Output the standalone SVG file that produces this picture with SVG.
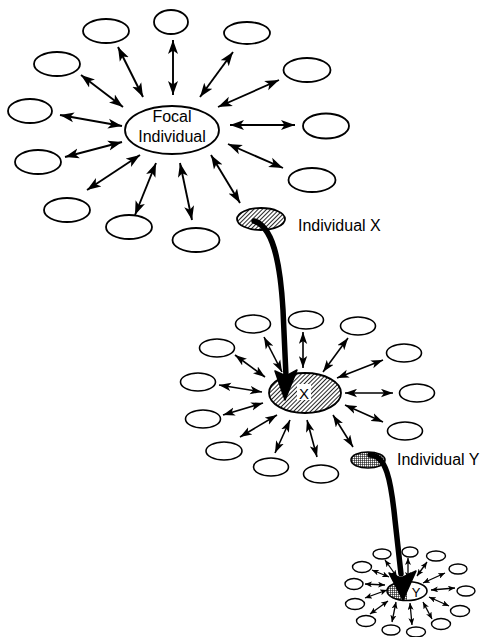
<svg xmlns="http://www.w3.org/2000/svg" width="483" height="637" viewBox="0 0 483 637">
<defs>
<pattern id="hatch" patternUnits="userSpaceOnUse" width="3" height="3" patternTransform="rotate(45)">
<rect width="3" height="3" fill="#fff"/>
<line x1="0" y1="0" x2="0" y2="3" stroke="#000" stroke-width="1.7"/>
</pattern>
<pattern id="mesh" patternUnits="userSpaceOnUse" width="2" height="2">
<rect width="2" height="2" fill="#fff"/>
<path d="M0,0 H2 M0,0 V2" stroke="#000" stroke-width="1.1"/>
</pattern>
<marker id="a1" markerUnits="userSpaceOnUse" markerWidth="14" markerHeight="11" refX="14" refY="5.5" orient="auto-start-reverse" viewBox="0 0 14 11">
<path d="M0,0.5 L14,5.5 L0,10.5 L3.5,5.5 z" fill="#000"/>
</marker>
<marker id="a2" markerUnits="userSpaceOnUse" markerWidth="12" markerHeight="9" refX="12" refY="4.5" orient="auto-start-reverse" viewBox="0 0 12 9">
<path d="M0,0.3 L12,4.5 L0,8.7 L3,4.5 z" fill="#000"/>
</marker>
<marker id="a3" markerUnits="userSpaceOnUse" markerWidth="7" markerHeight="6" refX="7" refY="3" orient="auto-start-reverse" viewBox="0 0 7 6">
<path d="M0,0 L7,3 L0,6 L1.8,3 z" fill="#000"/>
</marker>
</defs>
<style>
.e1{fill:#fff;stroke:#000;stroke-width:1.8}
.e2{fill:#fff;stroke:#000;stroke-width:1.6}
.e3{fill:#fff;stroke:#000;stroke-width:1.4}
.s1{stroke:#000;stroke-width:1.9;fill:none;marker-start:url(#a1);marker-end:url(#a1)}
.s2{stroke:#000;stroke-width:1.6;fill:none;marker-start:url(#a2);marker-end:url(#a2)}
.s3{stroke:#000;stroke-width:1.3;fill:none;marker-start:url(#a3);marker-end:url(#a3)}
.big{stroke:#000;stroke-width:5.5;fill:none;stroke-linecap:round}
text{font-family:"Liberation Sans",Arial,sans-serif;fill:#000}
.lbl{font-size:16px}
</style>

<!-- Cluster 1 -->
<g id="focal"><ellipse class="e1" cx="172" cy="130" rx="47" ry="24"/>
<text class="lbl" x="172" y="122" text-anchor="middle">Focal</text>
<text class="lbl" x="172" y="142" text-anchor="middle">Individual</text></g>
<g id="n1_1"><ellipse class="e1" cx="171" cy="22" rx="17" ry="12"/></g>
<g id="n1_2"><ellipse class="e1" cx="106" cy="31" rx="23" ry="12"/></g>
<g id="n1_3"><ellipse class="e1" cx="247" cy="33" rx="23" ry="11"/></g>
<g id="n1_4"><ellipse class="e1" cx="57" cy="64" rx="23" ry="12"/></g>
<g id="n1_5"><ellipse class="e1" cx="307" cy="70" rx="23.5" ry="12"/></g>
<g id="n1_6"><ellipse class="e1" cx="30" cy="111" rx="22" ry="12"/></g>
<g id="n1_7"><ellipse class="e1" cx="326" cy="126" rx="23" ry="12.5"/></g>
<g id="n1_8"><ellipse class="e1" cx="38" cy="162" rx="23" ry="12"/></g>
<g id="n1_9"><ellipse class="e1" cx="312" cy="180" rx="23.5" ry="12"/></g>
<g id="n1_10"><ellipse class="e1" cx="67" cy="210" rx="23" ry="12"/></g>
<g id="n1_11"><ellipse class="e1" cx="129" cy="227" rx="23" ry="12"/></g>
<g id="n1_12"><ellipse class="e1" cx="196" cy="240" rx="23.5" ry="12"/></g>
<g id="individualX"><ellipse cx="261" cy="219" rx="24" ry="11" fill="url(#hatch)" stroke="#000" stroke-width="1.8"/>
<text class="lbl" x="298" y="231">Individual X</text></g>

<!-- Cluster 2 -->
<g id="X"><ellipse cx="305" cy="393" rx="36" ry="20" fill="url(#hatch)" stroke="#000" stroke-width="1.8"/>
<rect x="297" y="384" width="14" height="16" fill="#fff"/>
<text x="304" y="399" font-size="15" text-anchor="middle">X</text></g>
<g id="n2_1"><ellipse class="e2" cx="253" cy="324" rx="17.5" ry="9"/></g>
<g id="n2_2"><ellipse class="e2" cx="306" cy="320" rx="17.5" ry="9"/></g>
<g id="n2_3"><ellipse class="e2" cx="358" cy="326" rx="17.5" ry="9"/></g>
<g id="n2_4"><ellipse class="e2" cx="217" cy="348" rx="17.5" ry="9"/></g>
<g id="n2_5"><ellipse class="e2" cx="404" cy="353" rx="17.5" ry="9"/></g>
<g id="n2_6"><ellipse class="e2" cx="198" cy="382" rx="17.5" ry="9"/></g>
<g id="n2_7"><ellipse class="e2" cx="417" cy="393" rx="17.5" ry="9"/></g>
<g id="n2_8"><ellipse class="e2" cx="203" cy="419" rx="17.5" ry="9"/></g>
<g id="n2_9"><ellipse class="e2" cx="405" cy="431" rx="17.5" ry="9"/></g>
<g id="n2_10"><ellipse class="e2" cx="224" cy="451" rx="18" ry="9"/></g>
<g id="n2_11"><ellipse class="e2" cx="271" cy="467" rx="17.5" ry="9"/></g>
<g id="n2_12"><ellipse class="e2" cx="321" cy="474" rx="17.5" ry="9"/></g>
<g id="individualY"><ellipse cx="368" cy="460" rx="17" ry="8" fill="url(#mesh)" stroke="#000" stroke-width="1.6"/>
<text class="lbl" x="397" y="465">Individual Y</text></g>

<!-- Cluster 3 -->
<g id="Y"><ellipse cx="407" cy="591" rx="20" ry="9.5" fill="#fff"/>
<path d="M407,581.5 A20,9.5 0 0 0 407,600.5 Z" fill="url(#mesh)"/>
<ellipse cx="407" cy="591" rx="20" ry="9.5" fill="none" stroke="#000" stroke-width="1.6"/>
<text x="416" y="597" font-size="13" text-anchor="middle">Y</text></g>
<g id="n3_1"><ellipse class="e3" cx="382" cy="554" rx="9" ry="5"/></g>
<g id="n3_2"><ellipse class="e3" cx="410" cy="552" rx="8" ry="5"/></g>
<g id="n3_3"><ellipse class="e3" cx="436" cy="556" rx="9.5" ry="5"/></g>
<g id="n3_4"><ellipse class="e3" cx="362" cy="567" rx="9.5" ry="5.5"/></g>
<g id="n3_5"><ellipse class="e3" cx="458" cy="569" rx="9" ry="5"/></g>
<g id="n3_6"><ellipse class="e3" cx="354" cy="584" rx="9" ry="5.5"/></g>
<g id="n3_7"><ellipse class="e3" cx="466" cy="591" rx="9" ry="5"/></g>
<g id="n3_8"><ellipse class="e3" cx="355" cy="604" rx="9.5" ry="5.5"/></g>
<g id="n3_9"><ellipse class="e3" cx="460" cy="611" rx="9.5" ry="5.5"/></g>
<g id="n3_10"><ellipse class="e3" cx="366" cy="621" rx="9.5" ry="5.5"/></g>
<g id="n3_11"><ellipse class="e3" cx="391" cy="630" rx="9" ry="5"/></g>
<g id="n3_12"><ellipse class="e3" cx="416" cy="632" rx="9.5" ry="5"/></g>
<g id="n3_13"><ellipse class="e3" cx="441" cy="624" rx="9.5" ry="5.5"/></g>

<g id="connectors">
<!-- cluster 1 spokes -->
<line class="s1" x1="118" y1="47" x2="143" y2="97"/>
<line class="s1" x1="173" y1="40" x2="173" y2="95"/>
<line class="s1" x1="233" y1="52" x2="200" y2="97"/>
<line class="s1" x1="81" y1="75" x2="123" y2="107"/>
<line class="s1" x1="279" y1="80" x2="218" y2="107"/>
<line class="s1" x1="60" y1="115" x2="122" y2="126"/>
<line class="s1" x1="230" y1="125" x2="295" y2="125"/>
<line class="s1" x1="65" y1="157" x2="122" y2="142"/>
<line class="s1" x1="228" y1="144" x2="283" y2="168"/>
<line class="s1" x1="87" y1="190" x2="140" y2="155"/>
<line class="s1" x1="135" y1="215" x2="156" y2="163"/>
<line class="s1" x1="180" y1="163" x2="192" y2="220"/>
<line class="s1" x1="211" y1="155" x2="240" y2="203"/>
<!-- cluster 2 spokes -->
<line class="s2" x1="264" y1="337" x2="282" y2="372"/>
<line class="s2" x1="303" y1="332" x2="303" y2="368"/>
<line class="s2" x1="348" y1="338" x2="323" y2="372"/>
<line class="s2" x1="235" y1="355" x2="265" y2="377"/>
<line class="s2" x1="383" y1="360" x2="337" y2="378"/>
<line class="s2" x1="219" y1="385" x2="262" y2="392"/>
<line class="s2" x1="345" y1="393" x2="393" y2="393"/>
<line class="s2" x1="223" y1="415" x2="263" y2="403"/>
<line class="s2" x1="345" y1="405" x2="383" y2="422"/>
<line class="s2" x1="240" y1="437" x2="277" y2="415"/>
<line class="s2" x1="275" y1="453" x2="290" y2="420"/>
<line class="s2" x1="307" y1="420" x2="317" y2="457"/>
<line class="s2" x1="333" y1="415" x2="353" y2="447"/>
<!-- cluster 3 spokes -->
<line class="s3" x1="385" y1="560" x2="397" y2="577"/>
<line class="s3" x1="408" y1="558" x2="408" y2="579"/>
<line class="s3" x1="427" y1="562" x2="417" y2="576"/>
<line class="s3" x1="372" y1="570" x2="389" y2="577"/>
<line class="s3" x1="445" y1="573" x2="423" y2="583"/>
<line class="s3" x1="365" y1="584" x2="385" y2="585"/>
<line class="s3" x1="431" y1="590" x2="455" y2="588"/>
<line class="s3" x1="365" y1="598" x2="387" y2="590"/>
<line class="s3" x1="429" y1="597" x2="449" y2="606"/>
<line class="s3" x1="370" y1="614" x2="388" y2="601"/>
<line class="s3" x1="392" y1="622" x2="396" y2="602"/>
<line class="s3" x1="410" y1="603" x2="412" y2="625"/>
<line class="s3" x1="423" y1="602" x2="432" y2="619"/>
<!-- thick transfer arrows -->
<path class="big" d="M254,221 C272,226 280,258 283,310 L286,376"/>
<path d="M285,400 L275,371 L286,376 L297,370 Z" fill="#000" stroke="#000" stroke-width="1.5" stroke-linejoin="round"/>
<path class="big" d="M370,455 C386,455 391,480 395,520 L401,574"/>
<path d="M403,600 L389,573 L401,578 L416,571 Z" fill="#000" stroke="#000" stroke-width="1.5" stroke-linejoin="round"/>
</g>
</svg>
